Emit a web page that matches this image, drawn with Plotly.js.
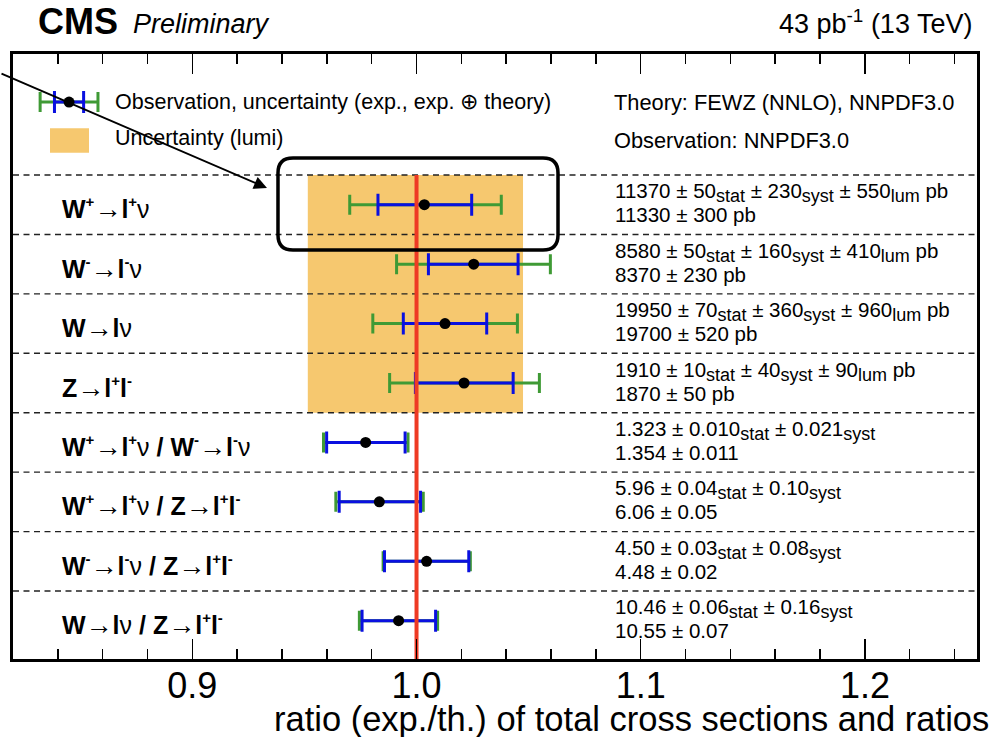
<!DOCTYPE html>
<html>
<head>
<meta charset="utf-8">
<script src="https://cdn.plot.ly/plotly-3.0.1.min.js"></script>
<style>html,body{margin:0;padding:0;background:#fff}#chart{width:995px;height:737px}</style>
</head>
<body>
<div id="chart"></div>
<script>
// ---- data ----
const SUP = s => `<sup><span style="font-size:15px">${s}</span></sup>`;
const ARR = `<span style="font-size:27px;font-weight:normal">→</span>`;
const NU = `<span style="font-weight:normal">ν</span>`;
const rowLabels = [
  `<b>W${SUP("+")}</b>${ARR}<b>l${SUP("+")}</b>${NU}`,
  `<b>W${SUP("-")}</b>${ARR}<b>l${SUP("-")}</b>${NU}`,
  `<b>W</b>${ARR}<b>l</b>${NU}`,
  `<b>Z</b>${ARR}<b>l${SUP("+")}l${SUP("-")}</b>`,
  `<b>W${SUP("+")}</b>${ARR}<b>l${SUP("+")}</b>${NU}<b> / W${SUP("-")}</b>${ARR}<b>l${SUP("-")}</b>${NU}`,
  `<b>W${SUP("+")}</b>${ARR}<b>l${SUP("+")}</b>${NU}<b> / Z</b>${ARR}<b>l${SUP("+")}l${SUP("-")}</b>`,
  `<b>W${SUP("-")}</b>${ARR}<b>l${SUP("-")}</b>${NU}<b> / Z</b>${ARR}<b>l${SUP("+")}l${SUP("-")}</b>`,
  `<b>W</b>${ARR}<b>l</b>${NU}<b> / Z</b>${ARR}<b>l${SUP("+")}l${SUP("-")}</b>`
];
const SUB = s => `<sub><span style="font-size:18px">${s}</span></sub>`;
const measuredText = [
  `11370 ± 50${SUB("stat")} ± 230${SUB("syst")} ± 550${SUB("lum")} pb`,
  `8580 ± 50${SUB("stat")} ± 160${SUB("syst")} ± 410${SUB("lum")} pb`,
  `19950 ± 70${SUB("stat")} ± 360${SUB("syst")} ± 960${SUB("lum")} pb`,
  `1910 ± 10${SUB("stat")} ± 40${SUB("syst")} ± 90${SUB("lum")} pb`,
  `1.323 ± 0.010${SUB("stat")} ± 0.021${SUB("syst")}`,
  `5.96 ± 0.04${SUB("stat")} ± 0.10${SUB("syst")}`,
  `4.50 ± 0.03${SUB("stat")} ± 0.08${SUB("syst")}`,
  `10.46 ± 0.06${SUB("stat")} ± 0.16${SUB("syst")}`
];
const theoryText = [
  "11330 ± 300 pb", "8370 ± 230 pb", "19700 ± 520 pb", "1870 ± 50 pb",
  "1.354 ± 0.011", "6.06 ± 0.05", "4.48 ± 0.02", "10.55 ± 0.07"
];
const ratio  = [1.0035, 1.0255, 1.0127, 1.0212, 0.9773, 0.9834, 1.0045, 0.9920];
const expLo  = [0.9828, 1.0053, 0.9941, 0.9995, 0.9599, 0.9655, 0.9857, 0.9757];
const expHi  = [1.0246, 1.0453, 1.0313, 1.0431, 0.9949, 1.0018, 1.0233, 1.0085];
const totLo  = [0.9702, 0.9911, 0.9805, 0.9880, 0.9585, 0.9640, 0.9851, 0.9745];
const totHi  = [1.0378, 1.0597, 1.0450, 1.0548, 0.9962, 1.0030, 1.0240, 1.0094];
const lumiBand = [0.9515, 1.0475];   // lumi uncertainty band (x), rows 0..3
const lumiRows = [0, 3];
const refValue = 1.0;
const legendSample = {x: 0.8450, expErr: 0.0065, totErr: 0.0129};
const xTicks = [0.9, 1.0, 1.1, 1.2];
const xTickText = ["0.9", "1.0", "1.1", "1.2"];

// ---- layout helpers ----
const W = 995, H = 737;
const mL = 13, mR = 18, mT = 54, mB = 78;
const pw = W - mL - mR, ph = H - mT - mB;
const px = x => (x - mL) / pw;            // pixel -> paper x
const py = y => (H - mB - y) / ph;        // pixel -> paper y
const yTop = -2.536, yBot = 7.644;
const rowIdx = rowLabels.map((_, i) => i);
const FONT = "Liberation Sans, Arial, Helvetica, sans-serif";

const GREEN = "#3f9a35", BLUE = "#0a10e0", RED = "#ee3a24", ORANGE = "#f6c86f";

const traces = [];
// lumi band
traces.push({
  x: [lumiBand[0], lumiBand[1], lumiBand[1], lumiBand[0], lumiBand[0]],
  y: [lumiRows[0]-0.5, lumiRows[0]-0.5, lumiRows[1]+0.5, lumiRows[1]+0.5, lumiRows[0]-0.5],
  type: "scatter", mode: "lines", fill: "toself", fillcolor: ORANGE,
  line: {width: 0, color: ORANGE}, hoverinfo: "skip", showlegend: false
});
// separators
const sx = [], sy = [];
for (let i = 0; i < rowIdx.length; i++) { sx.push(0.82, 1.25, null); sy.push(i-0.5, i-0.5, null); }
traces.push({x: sx, y: sy, type: "scatter", mode: "lines",
  line: {color: "#222", width: 1.4, dash: "6px,4.5px"}, hoverinfo: "skip", showlegend: false});
// total (green) error bars
traces.push({
  x: ratio, y: rowIdx, type: "scatter", mode: "markers",
  marker: {size: 1, color: "rgba(0,0,0,0)"},
  error_x: {type: "data", symmetric: false,
    array: ratio.map((v,i) => totHi[i]-v), arrayminus: ratio.map((v,i) => v-totLo[i]),
    color: GREEN, thickness: 3, width: 10},
  hoverinfo: "skip", showlegend: false
});
// exp (blue) error bars
traces.push({
  x: ratio, y: rowIdx, type: "scatter", mode: "markers",
  marker: {size: 1, color: "rgba(0,0,0,0)"},
  error_x: {type: "data", symmetric: false,
    array: ratio.map((v,i) => expHi[i]-v), arrayminus: ratio.map((v,i) => v-expLo[i]),
    color: BLUE, thickness: 3, width: 11},
  hoverinfo: "skip", showlegend: false
});
// reference line
traces.push({x: [refValue, refValue], y: [-0.5, yBot], type: "scatter", mode: "lines",
  line: {color: RED, width: 4}, hoverinfo: "skip", showlegend: false});
// points
traces.push({x: ratio, y: rowIdx, type: "scatter", mode: "markers",
  marker: {size: 11, color: "black"}, showlegend: false});
// legend sample
const ly = -1.728;
traces.push({x: [legendSample.x], y: [ly], type: "scatter", mode: "markers",
  marker: {size: 1, color: "rgba(0,0,0,0)"},
  error_x: {type: "data", array: [legendSample.totErr], color: GREEN, thickness: 3, width: 10},
  hoverinfo: "skip", showlegend: false});
traces.push({x: [legendSample.x], y: [ly], type: "scatter", mode: "markers",
  marker: {size: 11, color: "black"},
  error_x: {type: "data", array: [legendSample.expErr], color: BLUE, thickness: 3, width: 11},
  hoverinfo: "skip", showlegend: false});

const ann = [];
rowIdx.forEach(i => {
  ann.push({xref: "paper", yref: "y", x: px(60), y: i, yshift: -4, xanchor: "left", yanchor: "middle",
    text: rowLabels[i], showarrow: false, font: {family: FONT, size: 25, color: "black"}});
  ann.push({xref: "paper", yref: "y", x: px(613), y: i, yshift: 12, xanchor: "left", yanchor: "middle",
    text: measuredText[i], showarrow: false, font: {family: FONT, size: 20.5, color: "black"}});
  ann.push({xref: "paper", yref: "y", x: px(613), y: i, yshift: -10, xanchor: "left", yanchor: "middle",
    text: theoryText[i], showarrow: false, font: {family: FONT, size: 20.5, color: "black"}});
});
// legend texts
ann.push({xref: "paper", yref: "paper", x: px(113), y: py(102), xanchor: "left", yanchor: "middle",
  text: "Observation, uncertainty (exp., exp. ⊕ theory)", showarrow: false, font: {family: FONT, size: 21.5, color: "black"}});
ann.push({xref: "paper", yref: "paper", x: px(113), y: py(138), xanchor: "left", yanchor: "middle",
  text: "Uncertainty (lumi)", showarrow: false, font: {family: FONT, size: 21.5, color: "black"}});
ann.push({xref: "paper", yref: "paper", x: px(612), y: py(102), xanchor: "left", yanchor: "middle",
  text: "Theory: FEWZ (NNLO), NNPDF3.0", showarrow: false, font: {family: FONT, size: 21.8, color: "black"}});
ann.push({xref: "paper", yref: "paper", x: px(612), y: py(140), xanchor: "left", yanchor: "middle",
  text: "Observation: NNPDF3.0", showarrow: false, font: {family: FONT, size: 21.8, color: "black"}});
// header
ann.push({xref: "paper", yref: "paper", x: px(36), y: py(21), xanchor: "left", yanchor: "middle",
  text: "<b>CMS</b>", showarrow: false, font: {family: FONT, size: 36, color: "black"}});
ann.push({xref: "paper", yref: "paper", x: px(131), y: py(24), xanchor: "left", yanchor: "middle",
  text: "<i>Preliminary</i>", showarrow: false, font: {family: FONT, size: 27, color: "black"}});
ann.push({xref: "paper", yref: "paper", x: px(974), y: py(22), xanchor: "right", yanchor: "middle",
  text: "43 pb<sup>-1</sup> (13 TeV)", showarrow: false, font: {family: FONT, size: 27, color: "black"}});
// axis title (right aligned)
ann.push({xref: "paper", yref: "paper", x: px(991), y: py(719), xanchor: "right", yanchor: "middle",
  text: "ratio (exp./th.) of total cross sections and ratios", showarrow: false,
  font: {family: FONT, size: 34.5, color: "black"}});
// arrow
ann.push({xref: "x", yref: "y", x: 0.9333, y: -0.281, ax: -267, ay: -115, axref: "pixel", ayref: "pixel",
  text: "", showarrow: true, arrowhead: 2, arrowsize: 1.3, arrowwidth: 2, arrowcolor: "black", standoff: 0});

// rounded highlight box
const bx0 = 0.9382, bx1 = 1.0631, by0 = -0.786, by1 = 0.762, rx = 0.0067, ry = 0.2524;
const boxPath = `M ${bx0+rx},${by0} L ${bx1-rx},${by0} Q ${bx1},${by0} ${bx1},${by0+ry} L ${bx1},${by1-ry} Q ${bx1},${by1} ${bx1-rx},${by1} L ${bx0+rx},${by1} Q ${bx0},${by1} ${bx0},${by1-ry} L ${bx0},${by0+ry} Q ${bx0},${by0} ${bx0+rx},${by0} Z`;

const shapes = [
  {type: "path", xref: "x", yref: "y", path: boxPath, line: {color: "black", width: 3.5}, layer: "above"},
  {type: "rect", xref: "paper", yref: "paper", x0: px(50), x1: px(89), y0: py(152.7), y1: py(128.3),
    fillcolor: ORANGE, line: {width: 0}, layer: "above"}
];

const layout = {
  width: W, height: H,
  margin: {l: mL, r: mR, t: mT, b: mB},
  paper_bgcolor: "white", plot_bgcolor: "white",
  font: {family: FONT, color: "black"},
  showlegend: false,
  xaxis: {
    range: [0.82, 1.25], tickmode: "array", tickvals: xTicks, ticktext: xTickText,
    ticks: "inside", ticklen: 20, tickwidth: 1.5, tickcolor: "black",
    minor: {dtick: 0.02, tick0: 0, ticks: "inside", ticklen: 10, tickwidth: 1.5, tickcolor: "black", showgrid: false},
    showline: true, linewidth: 3, linecolor: "black", mirror: "ticks",
    showgrid: false, zeroline: false, ticklabelstandoff: -7,
    tickfont: {family: FONT, size: 36, color: "black"}
  },
  yaxis: {
    range: [yBot, yTop], showticklabels: false, ticks: "",
    showline: true, linewidth: 3, linecolor: "black", mirror: true,
    showgrid: false, zeroline: false
  },
  annotations: ann,
  shapes: shapes
};

Plotly.newPlot("chart", traces, layout, {displayModeBar: false, staticPlot: true});
</script>
</body>
</html>
